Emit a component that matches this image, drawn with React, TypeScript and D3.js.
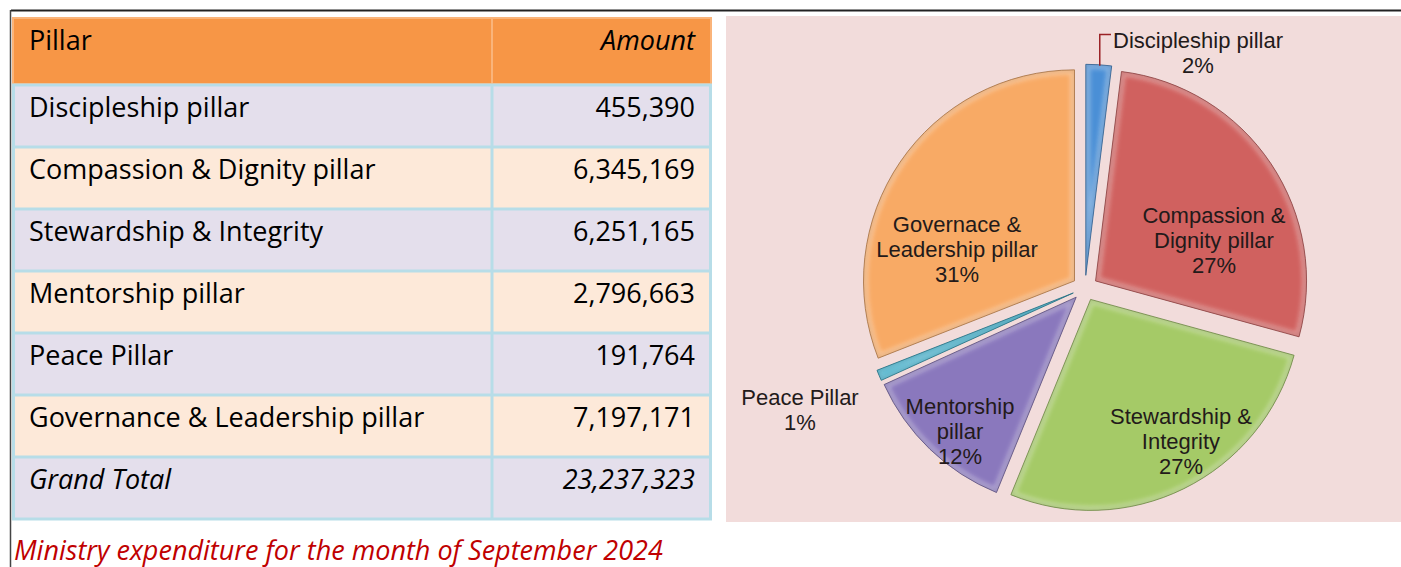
import React from "react";
import * as d3 from "d3";

// ---------- DATA ----------
const pillars = [
  "Discipleship pillar",
  "Compassion & Dignity pillar",
  "Stewardship & Integrity",
  "Mentorship pillar",
  "Peace Pillar",
  "Governance & Leadership pillar",
];
const amounts = [455390, 6345169, 6251165, 2796663, 191764, 7197171];
const grandTotal = 23237323;
const sliceLabels = [
  ["Discipleship pillar"],
  ["Compassion &", "Dignity pillar"],
  ["Stewardship &", "Integrity"],
  ["Mentorship", "pillar"],
  ["Peace Pillar"],
  ["Governace &", "Leadership pillar"],
];
const sliceColors = ["#4a8fd6", "#d0615f", "#a5ca67", "#8a78bd", "#35a7c4", "#f8aa65"];
const caption = "Ministry expenditure for the month of September 2024";

// ---------- LAYOUT ----------
const W = 1401;
const H = 567;
const table = { x0: 12, x1: 712, xDiv: 492, headTop: 17, headBot: 85, rowH: 62 };
const pie = { cx: 1085, cy: 288, r: 211, explode: 12.7 };
const panel = { x: 726, y: 16, w: W - 726, h: 506 };
// label block centres (x, y) for each slice, in slice order
const labelCentres: [number, number][] = [
  [1198, 52],
  [1214, 240],
  [1181, 441],
  [960, 431],
  [800, 409],
  [957, 249],
];
const labelLineH = 25;

const fmt = d3.format(",");
const pct = d3.format(".0%");

function darker(c: string, k: number) {
  return d3.color(c)!.darker(k).formatHex();
}

export default function App() {
  const total = d3.sum(amounts);
  const pieGen = d3.pie<number>().sort(null).value((d) => d);
  const arcs = pieGen(amounts);
  const arcGen = d3.arc<d3.PieArcDatum<number>>().innerRadius(0).outerRadius(pie.r);

  const rows = pillars.map((p, i) => ({ name: p, value: amounts[i] }));
  const rowFills = ["#e4dfec", "#fde9d9"];
  const tFont = "'Open Sans', sans-serif";
  const tSize = 27;

  const bodyTop = table.headBot;
  const nRows = rows.length + 1;

  return (
    <div style={{ position: "absolute", left: 0, top: 0 }}>
      <svg width={W} height={H} style={{ display: "block", background: "#ffffff" }}>
        <defs>
          <filter id="bev" x="-10%" y="-10%" width="120%" height="120%">
            <feGaussianBlur stdDeviation="2.2" />
          </filter>
          {arcs.map((a, i) => (
            <clipPath id={`clip${i}`} key={i}>
              <path d={arcGen(a)!} />
            </clipPath>
          ))}
        </defs>

        {/* frame lines */}
        <line x1={11} x2={W} y1={10.5} y2={10.5} stroke="#222" strokeWidth={2} />
        <line x1={10.5} x2={10.5} y1={10} y2={H} stroke="#444" strokeWidth={1.5} />

        {/* ---------- TABLE ---------- */}
        <rect x={table.x0} y={table.headTop} width={table.x1 - table.x0} height={table.headBot - table.headTop} fill="#f79646" />
        <rect x={table.x0 + 1} y={table.headTop + 1} width={table.x1 - table.x0 - 2} height={table.headBot - table.headTop - 2} fill="none" stroke="#fab47a" strokeWidth={2} />
        <line x1={table.xDiv} x2={table.xDiv} y1={table.headTop} y2={table.headBot} stroke="#fab47a" strokeWidth={2} />
        <text x={29} y={table.headTop + 33} fontFamily={tFont} fontSize={tSize} fill="#000">Pillar</text>
        <text x={695} y={table.headTop + 33} fontFamily={tFont} fontSize={tSize} fontStyle="italic" textAnchor="end" fill="#000">Amount</text>

        {d3.range(nRows).map((i) => {
          const y = bodyTop + i * table.rowH;
          const isTotal = i === rows.length;
          const name = isTotal ? "Grand Total" : rows[i].name;
          const val = isTotal ? grandTotal : rows[i].value;
          return (
            <g key={i}>
              <rect x={table.x0} y={y} width={table.x1 - table.x0} height={table.rowH} fill={rowFills[i % 2]} />
              <text x={29} y={y + 32} fontFamily={tFont} fontSize={tSize} fill="#000" fontStyle={isTotal ? "italic" : "normal"}>{name}</text>
              <text x={695} y={y + 32} fontFamily={tFont} fontSize={tSize} fill="#000" textAnchor="end" fontStyle={isTotal ? "italic" : "normal"}>{fmt(val)}</text>
            </g>
          );
        })}
        {/* body grid */}
        {d3.range(nRows + 1).map((i) => (
          <line key={"h" + i} x1={table.x0} x2={table.x1} y1={bodyTop + i * table.rowH} y2={bodyTop + i * table.rowH} stroke="#b7dde8" strokeWidth={3} />
        ))}
        <line x1={table.x0 + 1.5} x2={table.x0 + 1.5} y1={bodyTop} y2={bodyTop + nRows * table.rowH} stroke="#b7dde8" strokeWidth={3} />
        <line x1={table.x1 - 1.5} x2={table.x1 - 1.5} y1={bodyTop} y2={bodyTop + nRows * table.rowH} stroke="#b7dde8" strokeWidth={3} />
        <line x1={table.xDiv} x2={table.xDiv} y1={bodyTop} y2={bodyTop + nRows * table.rowH} stroke="#b7dde8" strokeWidth={3} />

        <text x={14} y={560} fontFamily={tFont} fontSize={tSize} fontStyle="italic" fill="#c00000">{caption}</text>

        {/* ---------- PIE PANEL ---------- */}
        <rect x={panel.x} y={panel.y} width={panel.w} height={panel.h} fill="#f2dcdb" />
        {arcs.map((a, i) => {
          const mid = (a.startAngle + a.endAngle) / 2;
          const dx = Math.sin(mid) * pie.explode;
          const dy = -Math.cos(mid) * pie.explode;
          const d = arcGen(a)!;
          const col = sliceColors[i];
          return (
            <g key={i} transform={`translate(${pie.cx + dx},${pie.cy + dy})`}>
              <path d={d} fill={col} />
              <g clipPath={`url(#clip${i})`}>
                <path d={d} fill="none" stroke="#ffffff" strokeOpacity={0.35} strokeWidth={9} filter="url(#bev)" />
                <path d={d} fill="none" stroke={darker(col, 0.6)} strokeOpacity={0.5} strokeWidth={3} filter="url(#bev)" />
              </g>
              <path d={d} fill="none" stroke={darker(col, 1.2)} strokeWidth={1} strokeOpacity={0.8} />
            </g>
          );
        })}

        {/* leader line for Discipleship */}
        {(() => {
          const a = arcs[0];
          const mid = (a.startAngle + a.endAngle) / 2;
          const ox = pie.cx + Math.sin(mid) * pie.explode;
          const oy = pie.cy - Math.cos(mid) * pie.explode;
          const px = ox + Math.sin(mid) * pie.r;
          const py = oy - Math.cos(mid) * pie.r;
          const [lx, ly] = labelCentres[0];
          const topY = ly - labelLineH / 2;
          return (
            <path d={`M${px + 1},${py + 1}V${topY - 5}H${lx - 87}`} fill="none" stroke="#9b2226" strokeWidth={1.5} />
          );
        })()}

        {/* slice labels */}
        {arcs.map((a, i) => {
          const lines = [...sliceLabels[i], pct(amounts[i] / total)];
          const [lx, ly] = labelCentres[i];
          const y0 = ly - ((lines.length - 1) * labelLineH) / 2;
          return (
            <text key={i} textAnchor="middle" fontFamily="'Liberation Sans', Arial, sans-serif" fontSize={22} fill="#231a1a">
              {lines.map((t, j) => (
                <tspan key={j} x={lx} y={y0 + j * labelLineH + 8}>{t}</tspan>
              ))}
            </text>
          );
        })}
      </svg>
    </div>
  );
}
